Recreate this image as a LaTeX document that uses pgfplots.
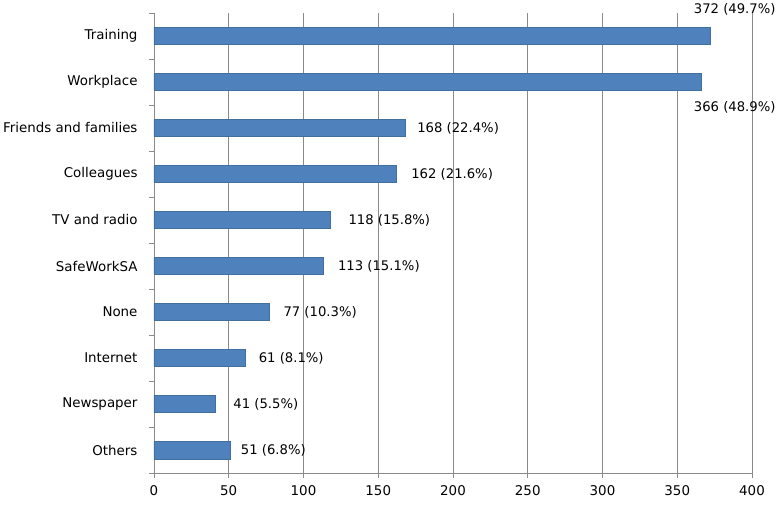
\documentclass[border=0pt]{standalone}
\usepackage{pgfplots}
\pgfplotsset{compat=1.18}
\usepackage{pgfplotstable}
\usepackage{fontspec}
\setmainfont{DejaVu Sans}

\definecolor{barblue}{HTML}{4F81BD}
\definecolor{baredge}{HTML}{41709F}
\definecolor{gridgray}{HTML}{8A8A8A}

% y = category position (Training at top), val = count, lx/ly = label position
\pgfplotstableread{
y val lx ly label
9 372 361 9.587 {372 (49.7\%)}
8 366 361 7.457 {366 (48.9\%)}
7 168 176 7 {168 (22.4\%)}
6 162 172 6 {162 (21.6\%)}
5 118 130 5 {118 (15.8\%)}
4 113 123 4 {113 (15.1\%)}
3 77 86.5 3 {77 (10.3\%)}
2 61 70 2 {61 (8.1\%)}
1 41 53 1 {41 (5.5\%)}
0 51 58 0 {51 (6.8\%)}
}\data

\begin{document}
\begin{tikzpicture}
\begin{axis}[
    scale only axis,
    width=598bp, height=460bp,
    clip=false,
    xmin=0, xmax=400,
    ymin=-0.5, ymax=9.5,
    axis x line*=bottom,
    axis y line*=left,
    axis line style={gridgray, line width=0.8bp},
    xtick={0,50,...,400},
    ytick={0,...,9},
    yticklabels={Others,Newspaper,Internet,None,SafeWorkSA,TV and radio,Colleagues,Friends and families,Workplace,Training},
    minor ytick={-0.5,0.5,...,9.5},
    tick align=outside,
    major tick length=5bp,
    minor tick length=5bp,
    major y tick style={draw=none},
    minor y tick style={gridgray, line width=0.8bp},
    major x tick style={gridgray, line width=0.8bp},
    xmajorgrids=true,
    grid style={gridgray, line width=0.8bp},
    tick label style={font=\fontsize{13.4bp}{16bp}\selectfont, text=black},
    /pgf/number format/assume math mode=true,
    xticklabel style={yshift=-4bp},
    yticklabel style={xshift=-8bp},
]
\addplot[xbar, bar width=0.38, fill=barblue, draw=baredge, line width=0.5bp]
    table[x=val, y=y] {\data};
\addplot[only marks, mark options={draw=none, fill=none},
    nodes near coords, point meta=explicit symbolic,
    every node near coord/.style={anchor=west, inner sep=0pt,
        font=\fontsize{13.2bp}{16bp}\selectfont, text=black}]
    table[x=lx, y=ly, meta=label] {\data};
\end{axis}
\pgfresetboundingbox
\path ([xshift=-154bp,yshift=-35bp]current axis.south west)
    rectangle ([xshift=26bp,yshift=13bp]current axis.north east);
\end{tikzpicture}
\end{document}
